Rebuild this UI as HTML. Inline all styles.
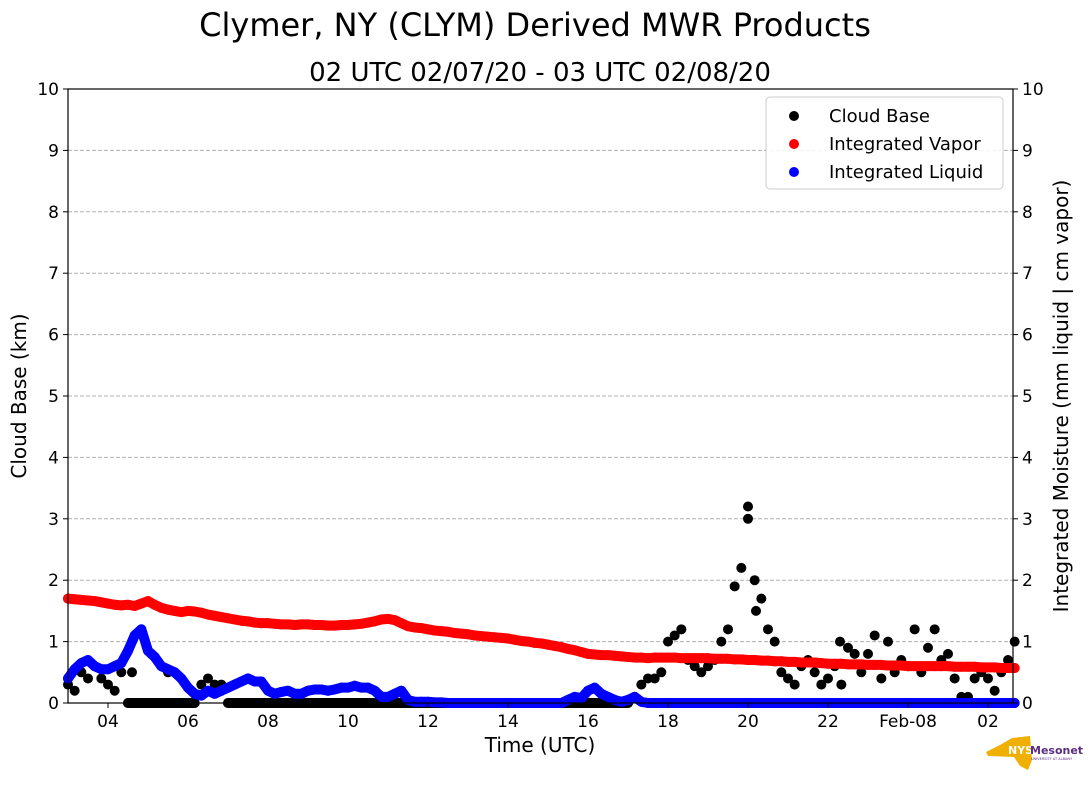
<!DOCTYPE html>
<html><head><meta charset="utf-8"><style>
body{margin:0;background:#fff;}
svg text{font-family:"DejaVu Sans","Liberation Sans",sans-serif;}
</style></head><body>
<svg id="chart" width="1089" height="804" viewBox="0 0 1089 804" xmlns="http://www.w3.org/2000/svg">
<rect width="1089" height="804" fill="#fff"/>
<text x="535" y="36" font-size="32" text-anchor="middle">Clymer, NY (CLYM) Derived MWR Products</text>
<text x="540" y="81" font-size="26" text-anchor="middle">02 UTC 02/07/20 - 03 UTC 02/08/20</text>
<g id="grid"></g>
<g id="marks"></g>
<rect x="68" y="89" width="945" height="614" fill="none" stroke="#000" stroke-width="1.2"/>
<g id="axes"></g>
<text x="26" y="396" font-size="20" text-anchor="middle" transform="rotate(-90 26 396)">Cloud Base (km)</text>
<text x="1068" y="396" font-size="20" text-anchor="middle" transform="rotate(-90 1068 396)">Integrated Moisture (mm liquid | cm vapor)</text>
<text x="540" y="752" font-size="20" text-anchor="middle">Time (UTC)</text>
<g>
<rect x="766" y="97" width="237" height="92" rx="4" fill="#fff" fill-opacity="0.85" stroke="#ccc"/>
<g><circle cx="794" cy="116" r="5" fill="#000"/><text x="829" y="122" font-size="18">Cloud Base</text></g>
<g><circle cx="794" cy="144" r="5" fill="#f00"/><text x="829" y="150" font-size="18">Integrated Vapor</text></g>
<g><circle cx="794" cy="172" r="5" fill="#00f"/><text x="829" y="178" font-size="18">Integrated Liquid</text></g>
</g>
<g>
<path d="M1000 745 L1012 738 L1030 736 L1032 760 L1028 770 L1020 766 L1014 757 L988 756 L986 752 Z" fill="#f0b000"/>
<text x="1008" y="754" font-size="11" font-weight="bold" fill="#fff">NYS</text>
<text x="1030" y="754" font-size="11" font-weight="bold" fill="#5a2d82">Mesonet</text>
<text x="1031" y="760" font-size="3.5" fill="#5a2d82">UNIVERSITY AT ALBANY</text>
</g>
</svg>
<script>
const startHour = 3;          // data start: 03 UTC
const stepHours = 1/6;        // 10-minute samples
const vapor = [1.70,1.69,1.68,1.67,1.66,1.64, 1.62,1.60,1.59,1.60,1.58,1.62, 1.66,1.60,1.55,1.52,1.50,1.48,
1.50,1.49,1.47,1.44,1.42,1.40, 1.38,1.36,1.34,1.33,1.31,1.30, 1.30,1.29,1.28,1.28,1.27,1.28,
1.28,1.27,1.27,1.26,1.26,1.27, 1.27,1.28,1.29,1.31,1.33,1.36, 1.37,1.35,1.30,1.25,1.23,1.22,
1.20,1.18,1.17,1.16,1.14,1.13, 1.12,1.10,1.09,1.08,1.07,1.06, 1.05,1.03,1.01,1.00,0.98,0.97,
0.95,0.93,0.91,0.88,0.86,0.83, 0.80,0.79,0.78,0.78,0.77,0.76, 0.75,0.74,0.74,0.73,0.74,0.74,
0.74,0.74,0.73,0.73,0.73,0.73, 0.73,0.72,0.72,0.72,0.71,0.71, 0.70,0.70,0.69,0.69,0.68,0.68,
0.67,0.67,0.66,0.66,0.66,0.65, 0.64,0.64,0.64,0.63,0.63,0.63, 0.62,0.62,0.62,0.61,0.61,0.61,
0.60,0.60,0.60,0.60,0.60,0.60, 0.60,0.59,0.59,0.59,0.59,0.58, 0.58,0.58,0.57,0.57,0.57];
const liquid = [0.40,0.55,0.65,0.70,0.60,0.55, 0.55,0.60,0.65,0.85,1.10,1.20, 0.85,0.75,0.60,0.55,0.50,0.40,
0.25,0.15,0.12,0.20,0.15,0.20, 0.25,0.30,0.35,0.40,0.35,0.35, 0.20,0.15,0.18,0.20,0.15,0.15,
0.20,0.22,0.22,0.20,0.22,0.25, 0.25,0.28,0.25,0.25,0.20,0.10, 0.10,0.15,0.20,0.05,0.02,0.02,
0.02,0.01,0.01,0,0,0, 0,0,0,0,0,0, 0,0,0,0,0,0,
0,0,0,0.05,0.10,0.08, 0.20,0.25,0.15,0.10,0.05,0.02, 0.05,0.10,0.02,0,0,0,
0,0,0,0,0,0, 0,0,0,0,0,0, 0,0,0,0,0,0,
0,0,0,0,0,0, 0,0,0,0,0,0, 0,0,0,0,0,0,
0,0,0,0,0,0, 0,0,0,0,0,0, 0,0,0,0,0];
const cloudBase = [0.3,0.2,0.5,0.4,0.6,0.4, 0.3,0.2,0.5,0,0,0, 0,0,0,0,0,0,
0,0,0.3,0.4,0.3,0.3, 0,0,0,0,0,0, 0,0,0,0,0,0,
0,0,0,0,0,0, 0,0,0,0,0,0, 0,0,0,0,0,0,
0,0,0,0,0,0, 0,0,0,0,0,0, 0,0,0,0,0,0,
0,0,0,0,0,0, 0,0,0,0,0,0, 0,0.1,0.3,0.4,0.4,0.5,
1.0,1.1,1.2,0.7,0.6,0.5, 0.6,0.7,1.0,1.2,1.9,2.2, 3.2,2.0,1.7,1.2,1.0,0.5,
0.4,0.3,0.6,0.7,0.5,0.3, 0.4,0.6,0.3,0.9,0.8,0.5, 0.8,1.1,0.4,1.0,0.5,0.7,
0.6,1.2,0.5,0.9,1.2,0.7, 0.8,0.4,0.1,0.1,0.4,0.5, 0.4,0.2,0.5,0.7,1.0];
const cloudExtraTimes = [1.6, 2.5, 17.0, 17.2, 19.3];   // hours after 03 UTC
const cloudExtraVals  = [0.5, 0.5, 3.0, 1.5, 1.0];
const xTickHours = [1,3,5,7,9,11,13,15,17,19,21,23];
const xTickLabels = ["04","06","08","10","12","14","16","18","20","22","Feb-08","02"];
const yTicks = [0,1,2,3,4,5,6,7,8,9,10];

const NS = "http://www.w3.org/2000/svg";
const X0=68, X1=1013, Y0=703, Y1=89, HOURS=23.625;
const xs = h => X0 + h*(X1-X0)/HOURS;
const ys = v => Y0 - v*(Y0-Y1)/10;
function mk(tag, attrs, parent){const e=document.createElementNS(NS,tag);for(const k in attrs)e.setAttribute(k,attrs[k]);parent.appendChild(e);return e;}
const grid=document.getElementById('grid'), axes=document.getElementById('axes'), marks=document.getElementById('marks');
yTicks.forEach(v=>{
  const y=ys(v);
  if(v>0&&v<10){const g=mk('line',{x1:X0,x2:X1,y1:y,y2:y,stroke:'#b0b0b0','stroke-dasharray':'4,2'},grid);
  
  }
  mk('line',{x1:X0-5,x2:X0,y1:y,y2:y,stroke:'#000'},axes);
  mk('line',{x1:X1,x2:X1+5,y1:y,y2:y,stroke:'#000'},axes);
  const tl=mk('text',{x:X0-9,y:y+6,'font-size':17,'text-anchor':'end'},axes);tl.textContent=v;
  
  
  const tr=mk('text',{x:X1+9,y:y+6,'font-size':17},axes);tr.textContent=v;
  
  
});
xTickHours.forEach((h,i)=>{
  const x=xs(h);
  mk('line',{x1:x,x2:x,y1:Y0,y2:Y0+5,stroke:'#000'},axes);
  const t=mk('text',{x:x,y:Y0+24,'font-size':17,'text-anchor':'middle'},axes);t.textContent=xTickLabels[i];
  
  
});
function band(arr,color,name,onlyZero){
  let d='';
  for(let i=1;i<arr.length;i++){
    const a=arr[i-1], b=arr[i];
    if(a===null||b===null)continue;
    if(onlyZero&&(a!==0||b!==0))continue;
    d+='M'+xs((i-1)*stepHours)+' '+ys(a)+'L'+xs(i*stepHours)+' '+ys(b);
  }
  const p=mk('path',{d:d,stroke:color,'stroke-width':10,'stroke-linecap':'round',fill:'none'},marks);
  
  
}
function series(arr,color,name){
  arr.forEach((v,i)=>{
    if(v===null)return;
    const h=i*stepHours;
    const c=mk('circle',{cx:xs(h),cy:ys(v),r:5,fill:color},marks);
    
    
  });
}
band(cloudBase,'#000','cloud-base-band',true);
series(cloudBase,'#000','cloud-base-point');
cloudExtraTimes.forEach((h,i)=>{
  const c=mk('circle',{cx:xs(h),cy:ys(cloudExtraVals[i]),r:5,fill:'#000'},marks);
  
  
});
band(vapor,'#f00','integrated-vapor-band',false);
series(vapor,'#f00','integrated-vapor-point');
band(liquid,'#00f','integrated-liquid-band',false);
series(liquid,'#00f','integrated-liquid-point');
</script>
</body></html>
